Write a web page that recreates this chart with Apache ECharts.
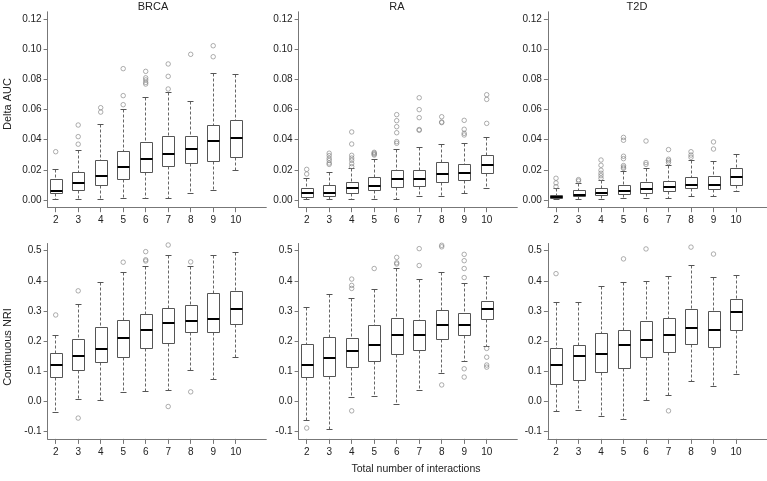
<!DOCTYPE html>
<html><head><meta charset="utf-8">
<script src="https://cdn.jsdelivr.net/npm/echarts@6/dist/echarts.min.js"></script>
<style>html,body{margin:0;padding:0;background:#fff}#c{width:767px;height:481px}</style>
</head><body><div id="c"></div>
<script>
const categories = [2, 3, 4, 5, 6, 7, 8, 9, 10];
const panelTitles = ['BRCA', 'RA', 'T2D'];
const aucTicks = [0, 0.02, 0.04, 0.06, 0.08, 0.10, 0.12];
const nriTicks = [-0.1, 0, 0.1, 0.2, 0.3, 0.4, 0.5];
const yNames = ['Delta AUC', 'Continuous NRI'];
const xName = 'Total number of interactions';

// box statistics per category: [lower whisker, Q1, median, Q3, upper whisker]
const brcaAucBox = [
  [0.0000, 0.0044, 0.0060, 0.0133, 0.0203],
  [0.0004, 0.0062, 0.0115, 0.0180, 0.0330],
  [0.0004, 0.0093, 0.0157, 0.0263, 0.0500],
  [0.0013, 0.0139, 0.0221, 0.0323, 0.0597],
  [0.0013, 0.0179, 0.0272, 0.0378, 0.0680],
  [0.0013, 0.0219, 0.0303, 0.0422, 0.0710],
  [0.0046, 0.0243, 0.0340, 0.0422, 0.0652],
  [0.0064, 0.0256, 0.0391, 0.0497, 0.0840],
  [0.0197, 0.0283, 0.0409, 0.0528, 0.0833]
];
const brcaAucOut = [
  [0.032], [0.037, 0.042, 0.0497], [0.0583, 0.0612], [0.0632, 0.0692, 0.0871],
  [0.0769, 0.078, 0.0796, 0.081, 0.0853], [0.0736, 0.082, 0.0902], [0.0966],
  [0.095, 0.1023], []
];
const raAucBox = [
  [0.0000, 0.0015, 0.0049, 0.0077, 0.0141],
  [0.0000, 0.0022, 0.0049, 0.0097, 0.0183],
  [0.0004, 0.0046, 0.0077, 0.0117, 0.0208],
  [0.0004, 0.0060, 0.0095, 0.0148, 0.0270],
  [0.0004, 0.0084, 0.0137, 0.0197, 0.0336],
  [0.0024, 0.0086, 0.0139, 0.0197, 0.0347],
  [0.0024, 0.0113, 0.0175, 0.0248, 0.0369],
  [0.0044, 0.0130, 0.0177, 0.0234, 0.0376],
  [0.0077, 0.0177, 0.0232, 0.0292, 0.0415]
];
const raAucOut = [
  [0.0172, 0.0203], [0.0236, 0.0245, 0.0262, 0.0276, 0.0294, 0.031],
  [0.0221, 0.0241, 0.0263, 0.0278, 0.0296, 0.0371, 0.0451],
  [0.0298, 0.0304, 0.031, 0.0316],
  [0.0376, 0.0387, 0.0446, 0.0486, 0.0526, 0.0566],
  [0.0462, 0.0467, 0.0546, 0.0599, 0.0678],
  [0.0513, 0.0517, 0.0552], [0.0431, 0.0442, 0.0469, 0.0528],
  [0.0508, 0.0667, 0.0698]
];
const t2dAucBox = [
  [0.0000, 0.0007, 0.0018, 0.0031, 0.0075],
  [0.0000, 0.0020, 0.0033, 0.0060, 0.0110],
  [0.0000, 0.0027, 0.0049, 0.0075, 0.0128],
  [0.0009, 0.0035, 0.0060, 0.0095, 0.0188],
  [0.0009, 0.0046, 0.0071, 0.0113, 0.0210],
  [0.0007, 0.0055, 0.0086, 0.0124, 0.0228],
  [0.0020, 0.0073, 0.0097, 0.0148, 0.0265],
  [0.0024, 0.0069, 0.0099, 0.0155, 0.0254],
  [0.0055, 0.0099, 0.0150, 0.0206, 0.0303]
];
const t2dAucOut = [
  [0.0088, 0.0113, 0.0144], [0.0126, 0.0135],
  [0.0144, 0.0161, 0.0177, 0.0197, 0.023, 0.0265],
  [0.021, 0.0218, 0.0228, 0.0274, 0.029, 0.0396, 0.0415],
  [0.0236, 0.0248, 0.0391], [0.0248, 0.026, 0.027, 0.0334],
  [0.0283, 0.0298, 0.032], [0.0338, 0.0385], []
];
const brcaNriBox = [
  [-0.038, 0.079, 0.120, 0.158, 0.218],
  [0.006, 0.104, 0.150, 0.206, 0.322],
  [0.002, 0.128, 0.174, 0.245, 0.396],
  [0.029, 0.146, 0.210, 0.269, 0.427],
  [0.033, 0.176, 0.238, 0.289, 0.4485],
  [0.0365, 0.1916, 0.262, 0.309, 0.483],
  [0.104, 0.228, 0.268, 0.318, 0.4485],
  [0.074, 0.230, 0.2735, 0.358, 0.483],
  [0.146, 0.2558, 0.3057, 0.3655, 0.495]
];
const brcaNriOut = [
  [0.287], [0.367, -0.055], [], [0.462], [0.466, 0.47, 0.497],
  [0.519, -0.0166], [0.463, 0.032], [], []
];
const raNriBox = [
  [-0.063, 0.081, 0.122, 0.190, 0.312],
  [-0.092, 0.083, 0.143, 0.212, 0.354],
  [0.013, 0.113, 0.167, 0.208, 0.340],
  [0.017, 0.133, 0.186, 0.252, 0.372],
  [-0.010, 0.156, 0.220, 0.276, 0.440],
  [0.0365, 0.169, 0.2215, 0.269, 0.404],
  [0.092, 0.204, 0.2536, 0.301, 0.4275],
  [0.133, 0.219, 0.2536, 0.2935, 0.390],
  [0.184, 0.2724, 0.3057, 0.333, 0.415]
];
const raNriOut = [
  [-0.088], [], [0.406, 0.385, 0.375, -0.031], [0.441], [0.456, 0.46, 0.478],
  [0.451, 0.507], [0.055, 0.513, 0.518], [0.411, 0.441, 0.467, 0.488, 0.1085, 0.081],
  [0.176, 0.147, 0.121, 0.114]
];
const t2dNriBox = [
  [-0.034, 0.0554, 0.122, 0.175, 0.3267],
  [-0.029, 0.070, 0.1506, 0.186, 0.327],
  [-0.050, 0.096, 0.157, 0.225, 0.380],
  [-0.060, 0.110, 0.186, 0.235, 0.394],
  [0.003, 0.145, 0.2027, 0.266, 0.3975],
  [0.019, 0.163, 0.219, 0.276, 0.415],
  [0.066, 0.189, 0.2436, 0.3067, 0.4496],
  [0.051, 0.179, 0.237, 0.299, 0.411],
  [0.090, 0.237, 0.298, 0.3378, 0.4186]
];
const t2dNriOut = [
  [0.424], [], [], [0.473], [0.506], [-0.031], [0.512], [0.489], []
];

const panels = [
  { row: 0, col: 0, box: brcaAucBox, out: brcaAucOut },
  { row: 0, col: 1, box: raAucBox, out: raAucOut },
  { row: 0, col: 2, box: t2dAucBox, out: t2dAucOut },
  { row: 1, col: 0, box: brcaNriBox, out: brcaNriOut },
  { row: 1, col: 1, box: raNriBox, out: raNriOut },
  { row: 1, col: 2, box: t2dNriBox, out: t2dNriOut }
];

const FONT = 'Liberation Sans, Arial, sans-serif';
const AXIS_COLOR = '#777';
const TEXT_COLOR = '#222';
const gridLefts = [47.6, 298.6, 547.9];
const gridTops = [11.8, 243.5];
const gridW = 218.7, gridH = 195.4;
const yRanges = [[-0.0048, 0.1248], [-0.124, 0.524]];

function crisp(v) { return Math.round(v - 0.5) + 0.5; }

function renderBox(params, api) {
  const x = api.value(0);
  const lo = api.coord([x, api.value(1)]);
  const q1 = api.coord([x, api.value(2)]);
  const md = api.coord([x, api.value(3)]);
  const q3 = api.coord([x, api.value(4)]);
  const hi = api.coord([x, api.value(5)]);
  const bw = Math.round(api.size([0.53, 0])[0]);
  const cx = crisp(lo[0]);
  const left = Math.round(lo[0] - bw / 2) + 0.5;
  const cap = bw / 4;
  const dash = { stroke: '#666', lineWidth: 1, lineDash: [3, 2] };
  const solid = { stroke: '#555', lineWidth: 1 };
  const yHi = crisp(hi[1]), yLo = crisp(lo[1]), yQ1 = crisp(q1[1]), yQ3 = crisp(q3[1]);
  return {
    type: 'group',
    children: [
      { type: 'line', shape: { x1: cx, y1: yHi, x2: cx, y2: yQ3 }, style: dash },
      { type: 'line', shape: { x1: cx, y1: yQ1, x2: cx, y2: yLo }, style: dash },
      { type: 'line', shape: { x1: cx - cap, y1: yHi, x2: cx + cap, y2: yHi }, style: solid },
      { type: 'line', shape: { x1: cx - cap, y1: yLo, x2: cx + cap, y2: yLo }, style: solid },
      { type: 'rect', shape: { x: left, y: yQ3, width: bw, height: yQ1 - yQ3 },
        style: { fill: '#fff', stroke: '#555', lineWidth: 1 } },
      { type: 'line', shape: { x1: left, y1: Math.round(md[1]), x2: left + bw, y2: Math.round(md[1]) },
        style: { stroke: '#000', lineWidth: 2 } }
    ]
  };
}

const grids = [], xAxes = [], yAxes = [], series = [];
panels.forEach((p, i) => {
  grids.push({ left: gridLefts[p.col], top: gridTops[p.row], width: gridW, height: gridH,
    containLabel: false, outerBoundsMode: 'none' });
  xAxes.push({
    type: 'value', gridIndex: i, min: 1.64, max: 11.36,
    splitLine: { show: false },
    axisLine: { show: true, onZero: false, lineStyle: { color: AXIS_COLOR, width: 1 } },
    axisTick: { show: true, length: 5, customValues: categories, lineStyle: { color: AXIS_COLOR } },
    axisLabel: { customValues: categories, margin: 8, fontSize: 10, color: TEXT_COLOR, fontFamily: FONT,
      formatter: v => String(Math.round(v)) }
  });
  const ticks = p.row === 0 ? aucTicks : nriTicks;
  const digits = p.row === 0 ? 2 : 1;
  yAxes.push({
    type: 'value', gridIndex: i, min: yRanges[p.row][0], max: yRanges[p.row][1],
    splitLine: { show: false },
    axisLine: { show: true, onZero: false, lineStyle: { color: AXIS_COLOR, width: 1 } },
    axisTick: { show: true, length: 4, customValues: ticks, lineStyle: { color: AXIS_COLOR } },
    axisLabel: { customValues: ticks, margin: 6, fontSize: 10, color: TEXT_COLOR, fontFamily: FONT,
      formatter: v => v.toFixed(digits) }
  });
  series.push({
    type: 'custom', xAxisIndex: i, yAxisIndex: i, renderItem: renderBox,
    encode: { x: 0, y: [1, 2, 3, 4, 5] },
    data: categories.map((c, k) => [c].concat(p.box[k])),
    z: 2, silent: true
  });
  const outData = [];
  categories.forEach((c, k) => p.out[k].forEach(v => outData.push([c, v])));
  series.push({
    type: 'scatter', xAxisIndex: i, yAxisIndex: i, symbol: 'circle', symbolSize: 4.5,
    itemStyle: { color: 'rgba(255,255,255,0)', borderColor: '#808080', borderWidth: 0.8 },
    data: outData, z: 3, silent: true
  });
});

const titles = panelTitles.map((t, k) => ({
  text: t, left: [153, 397, 637][k], top: 1, textAlign: 'center', padding: 0,
  textStyle: { fontSize: 11, fontWeight: 'normal', color: TEXT_COLOR, fontFamily: FONT }
}));
titles.push({
  text: xName, left: 416, top: 464, textAlign: 'center', padding: 0,
  textStyle: { fontSize: 10.5, fontWeight: 'normal', color: TEXT_COLOR, fontFamily: FONT }
});

const graphics = [
  { type: 'text', x: 8, y: 104, rotation: Math.PI / 2,
    style: { text: yNames[0], fontSize: 11, fill: TEXT_COLOR, fontFamily: FONT, align: 'center', verticalAlign: 'middle' } },
  { type: 'text', x: 8, y: 347, rotation: Math.PI / 2,
    style: { text: yNames[1], fontSize: 11, fill: TEXT_COLOR, fontFamily: FONT, align: 'center', verticalAlign: 'middle' } }
];

const chart = echarts.init(document.getElementById('c'), null, { renderer: 'canvas' });
chart.setOption({
  animation: false,
  backgroundColor: '#fff',
  title: titles,
  graphic: graphics,
  grid: grids,
  xAxis: xAxes,
  yAxis: yAxes,
  series: series
});
</script></body></html>
